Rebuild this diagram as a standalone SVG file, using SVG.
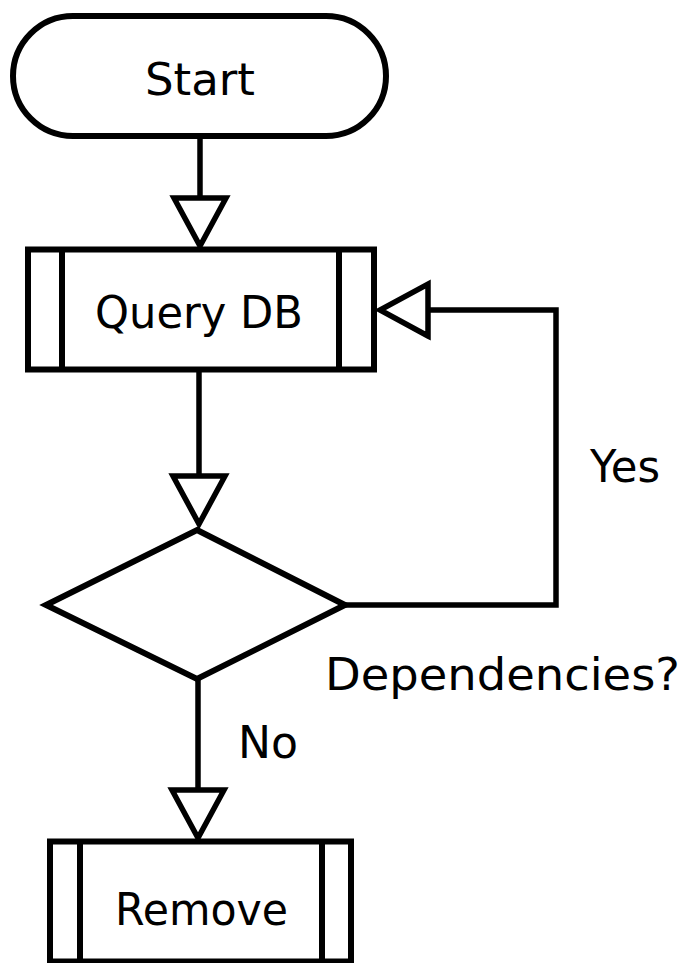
<svg xmlns="http://www.w3.org/2000/svg" width="683" height="963" viewBox="0 0 683 963">
<style>
.shape{fill:#fff;stroke:#000;stroke-width:6;stroke-linejoin:miter}
.bar{fill:none;stroke:#000;stroke-width:6}
.conn{fill:none;stroke:#000;stroke-width:5.5;stroke-linejoin:miter}
.txt{font-family:"DejaVu Sans","Liberation Sans",sans-serif;font-size:45px;fill:#000}
</style>
<defs>
<marker id="arrow" viewBox="0 0 70 70" markerWidth="70" markerHeight="70" markerUnits="userSpaceOnUse" refX="53" refY="35" orient="auto">
<path d="M5,9 L53,35 L5,61 Z" fill="#fff" stroke="#000" stroke-width="5.5" stroke-linejoin="miter"/>
</marker>
</defs>
<rect width="683" height="963" fill="#fff"/>
<g id="connectors">
<path class="conn" d="M200,136 L200,246" marker-end="url(#arrow)"/>
<path class="conn" d="M199,370 L199,524" marker-end="url(#arrow)"/>
<path class="conn" d="M345,605 L556,605 L556,310 L380,310" marker-end="url(#arrow)"/>
<path class="conn" d="M198,679 L198,838" marker-end="url(#arrow)"/>
<text class="txt" x="590" y="482" textLength="70" lengthAdjust="spacingAndGlyphs">Yes</text>
<text class="txt" x="238" y="758" textLength="60" lengthAdjust="spacingAndGlyphs">No</text>
</g>
<g id="start">
<rect class="shape" x="13" y="16" width="373" height="120" rx="60" ry="60"/>
<text class="txt" x="145" y="95" textLength="110" lengthAdjust="spacingAndGlyphs">Start</text>
</g>
<g id="query-db">
<rect class="shape" x="28" y="249.5" width="346" height="120"/>
<line class="bar" x1="62" y1="249.5" x2="62" y2="369.5"/>
<line class="bar" x1="339" y1="249.5" x2="339" y2="369.5"/>
<text class="txt" x="95" y="328" textLength="208" lengthAdjust="spacingAndGlyphs">Query DB</text>
</g>
<g id="dependencies">
<polygon class="shape" points="197,530 345,605 197,679 46,605"/>
<text class="txt" x="325" y="690" textLength="355" lengthAdjust="spacingAndGlyphs">Dependencies?</text>
</g>
<g id="remove">
<rect class="shape" x="50" y="841.5" width="301" height="120"/>
<line class="bar" x1="80" y1="841.5" x2="80" y2="961.5"/>
<line class="bar" x1="322" y1="841.5" x2="322" y2="961.5"/>
<text class="txt" x="115" y="925" textLength="173" lengthAdjust="spacingAndGlyphs">Remove</text>
</g>
</svg>
